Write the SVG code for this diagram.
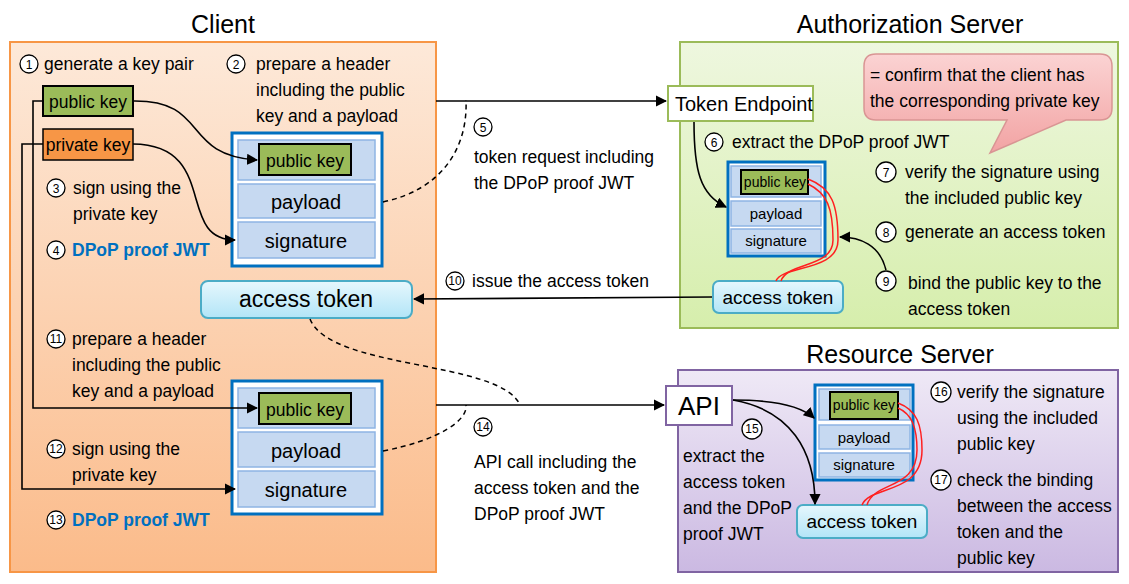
<svg xmlns="http://www.w3.org/2000/svg" width="1129" height="584" viewBox="0 0 1129 584">
<defs>
<linearGradient id="gc" x1="0" y1="0" x2="0" y2="1"><stop offset="0" stop-color="#fde9d9"/><stop offset="1" stop-color="#fbbb8a"/></linearGradient>
<linearGradient id="ga" x1="0" y1="0" x2="0" y2="1"><stop offset="0" stop-color="#eef7df"/><stop offset="1" stop-color="#d6eeac"/></linearGradient>
<linearGradient id="gr" x1="0" y1="0" x2="0" y2="1"><stop offset="0" stop-color="#efe9f6"/><stop offset="1" stop-color="#cbb9e2"/></linearGradient>
<linearGradient id="gt" x1="0" y1="0" x2="0" y2="1"><stop offset="0" stop-color="#e6f7fd"/><stop offset="1" stop-color="#b2e5f7"/></linearGradient>
<linearGradient id="gp" x1="0" y1="0" x2="0" y2="1"><stop offset="0" stop-color="#fbd3d3"/><stop offset="1" stop-color="#f2a3a3"/></linearGradient>
<marker id="ar" viewBox="0 0 10 10" refX="9" refY="5" markerWidth="7" markerHeight="7" orient="auto-start-reverse"><path d="M0,0L10,5L0,10z" fill="#000"/></marker>
<style>
text{font-family:"Liberation Sans",Arial,sans-serif;fill:#000}
.l{font-size:17.5px}
.t{font-size:25px}
.n{font-size:12px;text-anchor:middle}
.c{text-anchor:middle}
.nc{fill:#fff;stroke:#000;stroke-width:1.3}
.jw{fill:#fff;stroke:#0070c0;stroke-width:3}
.row{fill:#c6d9f1;stroke:#8eb4e3;stroke-width:1.5}
.pk{fill:#9bbb59;stroke:#000;stroke-width:2}
.at{fill:url(#gt);stroke:#4bacc6;stroke-width:2}
.ln{fill:none;stroke:#000;stroke-width:1.6}
.ds{fill:none;stroke:#000;stroke-width:1.5;stroke-dasharray:5 4}
.rd{fill:none;stroke:#ff2020;stroke-width:1.5}
.b{font-weight:bold;fill:#0070c0}
</style>
</defs>
<rect width="1129" height="584" fill="#fff"/>
<g id="client">
<rect x="10" y="42" width="426" height="530" fill="url(#gc)" stroke="#f79646" stroke-width="2"/>
<text x="223" y="33" class="t c">Client</text>
</g>
<g id="as">
<rect x="680" y="42" width="438" height="286" fill="url(#ga)" stroke="#9bbb59" stroke-width="2"/>
<text x="910" y="33" class="t c">Authorization Server</text>
</g>
<g id="rs">
<rect x="678" y="370" width="440" height="202" fill="url(#gr)" stroke="#8064a2" stroke-width="2"/>
<text x="900" y="363" class="t c">Resource Server</text>
</g>
<g id="c1"><circle cx="29" cy="64" r="9" class="nc"/><text x="29" y="69" class="n">1</text><text x="44" y="70" class="l">generate a key pair</text></g>
<g id="pubkey"><rect x="43" y="86" width="90" height="30" class="pk"/><text x="88" y="108" class="l c">public key</text></g>
<g id="privkey"><rect x="43" y="129" width="90" height="31" fill="#f79646" stroke="#000" stroke-width="1.5"/><text x="88" y="151" class="l c">private key</text></g>
<g id="c2"><circle cx="236" cy="64" r="9" class="nc"/><text x="236" y="69" class="n">2</text><text class="l"><tspan x="256" y="70">prepare a header</tspan><tspan x="256" y="96">including the public</tspan><tspan x="256" y="122">key and a payload</tspan></text></g>
<g id="jwt1"><rect x="232" y="133" width="150" height="133" class="jw"/>
<rect x="238" y="140" width="137" height="40" class="row"/><rect x="238" y="184" width="137" height="34" class="row"/><rect x="238" y="222" width="137" height="36" class="row"/>
<rect x="259" y="144" width="92" height="31" class="pk"/><text x="305" y="167" class="l c" font-size="18">public key</text>
<text x="306" y="209" class="c" font-size="20">payload</text><text x="306" y="248" class="c" font-size="20">signature</text></g>
<g id="c3"><circle cx="56" cy="188" r="9" class="nc"/><text x="56" y="193" class="n">3</text><text class="l"><tspan x="73" y="194">sign using the</tspan><tspan x="73" y="220">private key</tspan></text></g>
<g id="c4"><circle cx="56" cy="250" r="9" class="nc"/><text x="56" y="255" class="n">4</text><text x="72" y="256" class="l b">DPoP proof JWT</text></g>
<g id="at1"><rect x="201" y="281" width="211" height="37" rx="7" class="at"/><text x="306" y="307" class="c" font-size="23">access token</text></g>
<g id="c11"><circle cx="56" cy="339" r="9" class="nc"/><text x="56" y="343" class="n" font-size="10">11</text><text class="l"><tspan x="72" y="345">prepare a header</tspan><tspan x="72" y="371">including the public</tspan><tspan x="72" y="397">key and a payload</tspan></text></g>
<g id="jwt2"><rect x="232" y="381" width="150" height="133" class="jw"/>
<rect x="238" y="388" width="137" height="40" class="row"/><rect x="238" y="432" width="137" height="35" class="row"/><rect x="238" y="471" width="137" height="36" class="row"/>
<rect x="259" y="393" width="92" height="31" class="pk"/><text x="305" y="416" class="l c" font-size="18">public key</text>
<text x="306" y="458" class="c" font-size="20">payload</text><text x="306" y="497" class="c" font-size="20">signature</text></g>
<g id="c12"><circle cx="56" cy="449" r="9" class="nc"/><text x="56" y="453" class="n" font-size="10">12</text><text class="l"><tspan x="72" y="455">sign using the</tspan><tspan x="72" y="481">private key</tspan></text></g>
<g id="c13"><circle cx="56" cy="520" r="9" class="nc"/><text x="56" y="524" class="n" font-size="10">13</text><text x="72" y="526" class="l b">DPoP proof JWT</text></g>
<g id="c5"><circle cx="483" cy="127" r="9" class="nc"/><text x="483" y="132" class="n">5</text><text class="l"><tspan x="474" y="163">token request including</tspan><tspan x="474" y="189">the DPoP proof JWT</tspan></text></g>
<g id="c10"><circle cx="455" cy="281" r="9" class="nc"/><text x="455" y="285" class="n" font-size="10">10</text><text x="472" y="287" class="l">issue the access token</text></g>
<g id="c14"><circle cx="483" cy="427" r="9" class="nc"/><text x="483" y="431" class="n" font-size="10">14</text><text class="l"><tspan x="474" y="468">API call including the</tspan><tspan x="474" y="494">access token and the</tspan><tspan x="474" y="520">DPoP proof JWT</tspan></text></g>
<g id="token-endpoint"><rect x="668" y="86" width="145" height="35" fill="#fff" stroke="#9bbb59" stroke-width="2"/><text x="675" y="111" font-size="20">Token Endpoint</text></g>
<g id="c6"><circle cx="714" cy="142" r="9" class="nc"/><text x="714" y="147" class="n">6</text><text x="732" y="148" class="l">extract the DPoP proof JWT</text></g>
<g id="jwt-as"><rect x="728" y="162" width="97" height="94" class="jw" stroke-width="2"/>
<rect x="731" y="166" width="90" height="31" class="row"/><rect x="731" y="201" width="90" height="25" class="row"/><rect x="731" y="229" width="90" height="24" class="row"/>
<rect x="741" y="170" width="67" height="24" class="pk"/><text x="775" y="187" class="c" font-size="14">public key</text>
<text x="776" y="219" class="c" font-size="15">payload</text><text x="776" y="246" class="c" font-size="15">signature</text></g>
<g id="callout"><path d="M876,54H1100Q1112,54 1112,66V108Q1112,120 1100,120H1066L990,153L1007,120H876Q864,120 864,108V66Q864,54 876,54Z" fill="url(#gp)" stroke="#d99594" stroke-width="1.5"/>
<text class="l"><tspan x="870" y="81">= confirm that the client has</tspan><tspan x="870" y="107">the corresponding private key</tspan></text></g>
<g id="c7"><circle cx="886" cy="172" r="10" class="nc"/><text x="886" y="177" class="n">7</text><text class="l"><tspan x="905" y="178">verify the signature using</tspan><tspan x="905" y="204">the included public key</tspan></text></g>
<g id="c8"><circle cx="886" cy="232" r="10" class="nc"/><text x="886" y="237" class="n">8</text><text x="905" y="238" class="l">generate an access token</text></g>
<g id="c9"><circle cx="886" cy="281" r="10" class="nc"/><text x="886" y="286" class="n">9</text><text class="l"><tspan x="908" y="289">bind the public key to the</tspan><tspan x="908" y="315">access token</tspan></text></g>
<g id="at-as"><rect x="713" y="281" width="130" height="32" rx="6" class="at"/><text x="778" y="304" class="c" font-size="19">access token</text></g>
<g id="api"><rect x="666" y="386" width="66" height="39" fill="#fff" stroke="#8064a2" stroke-width="2"/><text x="699" y="415" class="c" font-size="26">API</text></g>
<g id="c15"><circle cx="752" cy="429" r="10" class="nc"/><text x="752" y="433" class="n" font-size="10">15</text><text class="l"><tspan x="683" y="462">extract the</tspan><tspan x="683" y="488">access token</tspan><tspan x="683" y="514">and the DPoP</tspan><tspan x="683" y="540">proof JWT</tspan></text></g>
<g id="jwt-rs"><rect x="815" y="385" width="98" height="95" class="jw" stroke-width="2"/>
<rect x="819" y="389" width="91" height="31" class="row"/><rect x="819" y="425" width="91" height="24" class="row"/><rect x="819" y="453" width="91" height="24" class="row"/>
<rect x="830" y="392" width="68" height="27" class="pk"/><text x="864" y="410" class="c" font-size="14">public key</text>
<text x="864" y="443" class="c" font-size="15">payload</text><text x="864" y="470" class="c" font-size="15">signature</text></g>
<g id="at-rs"><rect x="797" y="505" width="130" height="33" rx="6" class="at"/><text x="862" y="528" class="c" font-size="19">access token</text></g>
<g id="c16"><circle cx="941" cy="392" r="10" class="nc"/><text x="941" y="396" class="n" font-size="10">16</text><text class="l"><tspan x="957" y="398">verify the signature</tspan><tspan x="957" y="424">using the included</tspan><tspan x="957" y="450">public key</tspan></text></g>
<g id="c17"><circle cx="941" cy="480" r="10" class="nc"/><text x="941" y="484" class="n" font-size="10">17</text><text class="l"><tspan x="957" y="486">check the binding</tspan><tspan x="957" y="512">between the access</tspan><tspan x="957" y="538">token and the</tspan><tspan x="957" y="564">public key</tspan></text></g>
<g id="connectors">
<path class="ln" d="M43,101H33V408H257" marker-end="url(#ar)"/>
<path class="ln" d="M43,144H22V489H235" marker-end="url(#ar)"/>
<path class="ln" d="M133,101C210,100 180,155 257,160" marker-end="url(#ar)"/>
<path class="ln" d="M133,144C220,145 175,240 235,240" marker-end="url(#ar)"/>
<path class="ds" d="M383,202C440,190 468,150 466,100"/>
<path class="ds" d="M383,451C440,440 468,420 466,405"/>
<path class="ln" d="M436,101H666" marker-end="url(#ar)"/>
<path class="ln" d="M694,122C694,170 700,195 726,207" marker-end="url(#ar)"/>
<path class="ln" d="M886,270C880,245 860,237 840,237" marker-end="url(#ar)"/>
<path class="ln" d="M712,297L414,299" marker-end="url(#ar)"/>
<path class="ds" d="M310,319C330,370 500,360 520,405"/>
<path class="ln" d="M436,405H664" marker-end="url(#ar)"/>
<path class="ln" d="M733,400C770,400 800,405 814,418" marker-end="url(#ar)"/>
<path class="ln" d="M733,400C790,410 815,450 815,504" marker-end="url(#ar)"/>
<g class="rd"><path d="M808,179C832,188 838,205 838,240C838,272 782,265 776,281"/><path d="M808,184C827,193 833,208 833,240C833,268 787,262 781,281"/>
<path d="M898,403C917,410 922,425 922,450C922,495 870,485 862,505"/><path d="M898,408C912,414 917,428 917,450C917,490 874,481 867,505"/></g>
</g>
</svg>
